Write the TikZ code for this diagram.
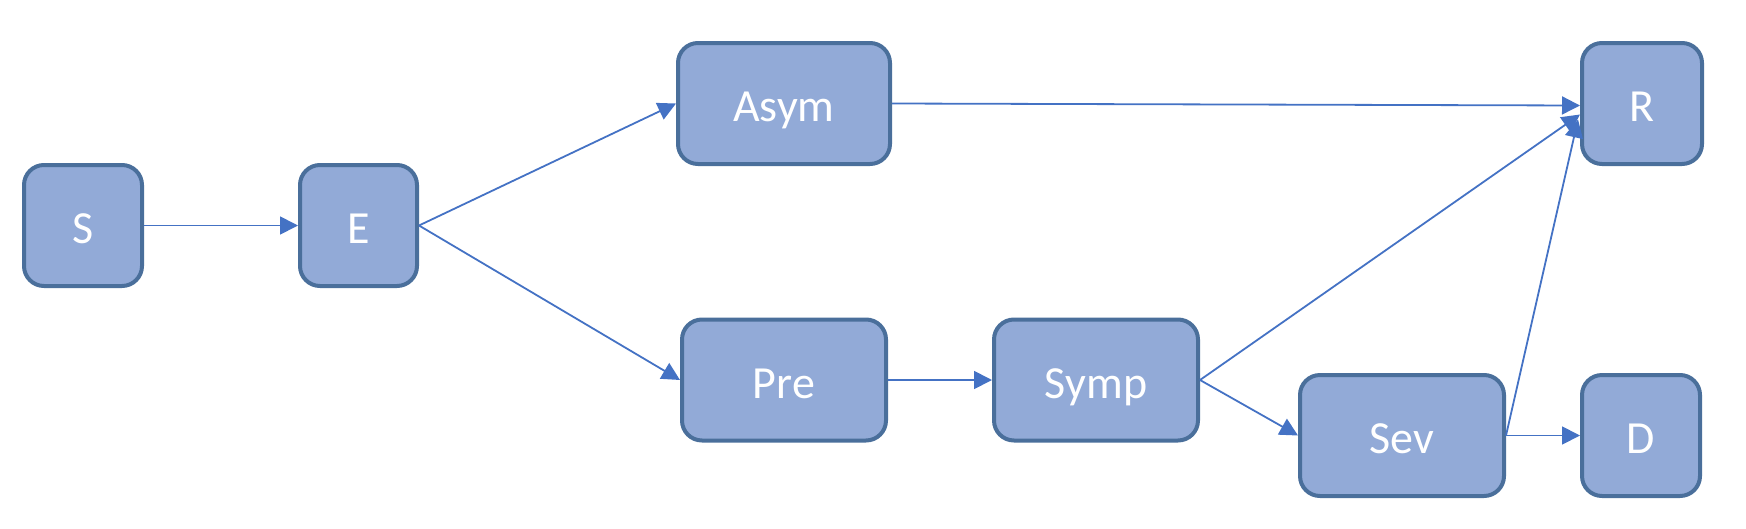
\documentclass[tikz,border=0pt]{standalone}
\usepackage{fontspec}
\setmainfont{Carlito}
\usetikzlibrary{arrows.meta,calc}
\definecolor{boxfill}{HTML}{92AAD7}
\definecolor{boxline}{HTML}{4A6F9B}
\definecolor{arrowc}{HTML}{4472C4}
\begin{document}
\begin{tikzpicture}[x=1pt,y=-1pt,
  box/.style={draw=boxline, fill=boxfill, line width=4pt, rounded corners=20pt,
    inner sep=0pt, minimum height=121pt, text=white, text height=40pt, text depth=4pt,
    font=\fontsize{46}{52}\selectfont},
  conn/.style={draw=arrowc, line width=1.8pt, -{Triangle[length=18pt,width=18pt]}}
]
\useasboundingbox (0,0) rectangle (1746,528);
\node[box, minimum width=118pt] (S) at (83,225.5) {S};
\node[box, minimum width=117pt] (E) at (358.5,225.5) {E};
\node[box, minimum width=212pt] (Asym) at (784,103.5) {Asym};
\node[box, minimum width=204pt] (Pre) at (784,380) {Pre};
\node[box, minimum width=204pt] (Symp) at (1096,380) {Symp};
\node[box, minimum width=120pt] (R) at (1642,103.5) {R};
\node[box, minimum width=204pt] (Sev) at (1402,435.5) {Sev};
\node[box, minimum width=118pt] (D) at (1641,435.5) {D};
\coordinate (Rin1) at ($(R.west)+(0,2)$);
\coordinate (Rin2) at ($(R.west)+(0,11)$);
\coordinate (Rin3) at ($(R.west)+(-2,16)$);
\draw[conn] (S.east) -- (E.west);
\draw[conn] (E.east) -- (Asym.west);
\draw[conn] (E.east) -- (Pre.west);
\draw[conn] (Pre.east) -- (Symp.west);
\draw[conn] (Asym.east) -- (Rin1);
\draw[conn] (Symp.east) -- (Rin2);
\draw[conn] (Symp.east) -- (Sev.west);
\draw[conn] (Sev.east) -- (Rin3);
\draw[conn] (Sev.east) -- (D.west);
\end{tikzpicture}
\end{document}
